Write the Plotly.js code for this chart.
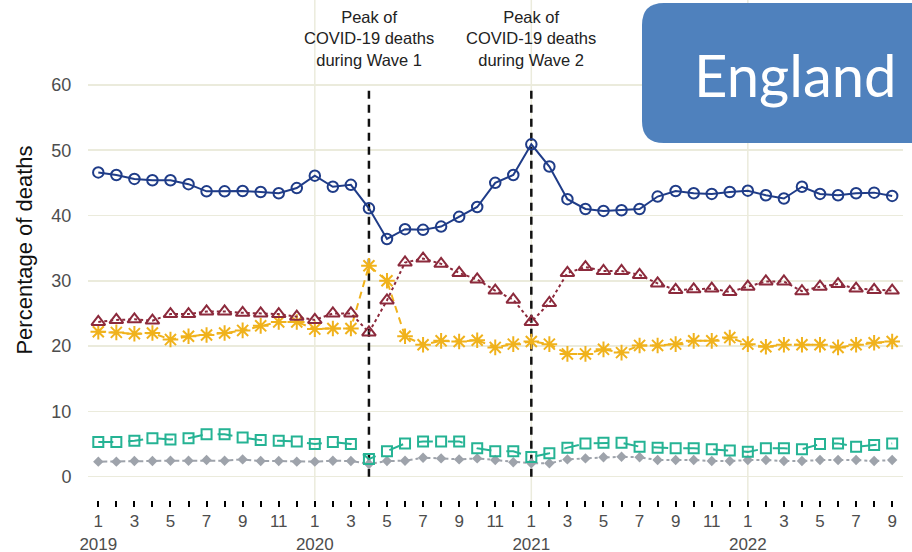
<!DOCTYPE html>
<html><head><meta charset="utf-8">
<script src="https://cdn.plot.ly/plotly-3.0.1.min.js"></script>
<style>html,body{margin:0;padding:0;background:#fff}#chart{width:912px;height:552px}</style>
</head><body><div id="chart"></div>
<script>
const periods = ['2019-01','2019-02','2019-03','2019-04','2019-05','2019-06','2019-07','2019-08','2019-09','2019-10','2019-11','2019-12',
  '2020-01','2020-02','2020-03','2020-04','2020-05','2020-06','2020-07','2020-08','2020-09','2020-10','2020-11','2020-12',
  '2021-01','2021-02','2021-03','2021-04','2021-05','2021-06','2021-07','2021-08','2021-09','2021-10','2021-11','2021-12',
  '2022-01','2022-02','2022-03','2022-04','2022-05','2022-06','2022-07','2022-08','2022-09'];
const monthTicks = ['1<br>2019','','3','','5','','7','','9','','11','',
  '1<br>2020','','3','','5','','7','','9','','11','',
  '1<br>2021','','3','','5','','7','','9','','11','',
  '1<br>2022','','3','','5','','7','','9'];
const yearStarts = ['2019-01','2020-01','2021-01','2022-01'];
const yTicks = [0,10,20,30,40,50,60];

const hospital = [46.6,46.2,45.6,45.4,45.4,44.8,43.7,43.7,43.75,43.6,43.4,44.2,46.1,44.4,44.7,
  41.1,36.4,37.9,37.8,38.3,39.8,41.3,45.0,46.2,50.9,47.5,42.5,41.0,40.7,40.8,41.0,
  42.9,43.75,43.4,43.3,43.6,43.8,43.1,42.6,44.4,43.3,43.1,43.4,43.5,43.0];
const home = [23.7,24.0,24.1,23.9,24.9,24.9,25.3,25.3,25.1,25.0,24.9,24.5,24.0,25.0,25.0,
  22.1,27.0,32.8,33.4,32.6,31.2,30.2,28.5,27.1,23.7,26.6,31.2,32.1,31.5,31.5,30.9,
  29.6,28.6,28.7,28.8,28.3,29.1,29.9,29.9,28.4,29.1,29.5,28.8,28.6,28.5];
const careHome = [22.2,22.1,21.9,22.0,21.0,21.5,21.7,22.0,22.4,23.1,23.7,23.7,22.6,22.7,22.7,
  32.3,30.0,21.5,20.2,20.8,20.7,20.9,19.8,20.3,20.7,20.3,18.8,18.8,19.5,19.0,20.1,
  20.1,20.3,20.8,20.8,21.3,20.3,19.9,20.2,20.2,20.2,19.8,20.2,20.5,20.7];
const hospice = [5.3,5.3,5.5,5.9,5.7,5.9,6.5,6.5,6.0,5.6,5.5,5.4,5.0,5.3,5.0,
  2.7,3.9,5.1,5.4,5.4,5.4,4.35,3.9,3.9,3.0,3.6,4.45,5.1,5.2,5.2,4.6,
  4.45,4.35,4.35,4.2,4.0,3.8,4.35,4.35,4.2,5.0,5.1,4.6,4.85,5.1];
const other = [2.3,2.3,2.4,2.4,2.45,2.45,2.55,2.45,2.65,2.4,2.4,2.3,2.3,2.45,2.4,
  1.95,2.4,2.45,2.9,2.8,2.65,2.8,2.55,2.2,2.05,2.05,2.65,2.8,2.97,3.05,2.97,
  2.55,2.55,2.55,2.4,2.4,2.55,2.55,2.4,2.4,2.55,2.55,2.55,2.4,2.55];

const wavePeaks = ['2020-04','2021-01'];
const waveLabels = ['Peak of<br>COVID-19 deaths<br>during Wave 1','Peak of<br>COVID-19 deaths<br>during Wave 2'];
const regionLabel = 'England';

function series(name, y, color, symbol, size, dash, lw) {
  return {
    type: 'scatter', mode: 'lines+markers', name: name, x: periods, y: y,
    line: {color: color, width: 2, dash: dash},
    marker: {symbol: symbol, size: size, color: color, line: {color: color, width: lw}},
    cliponaxis: false, showlegend: false
  };
}

const traces = [
  series('Other', other, '#9ea3ab', 'diamond', 8, 'dashdot', 0),
  series('Hospice', hospice, '#25b394', 'square-open', 10, 'longdash', 2),
  series('Care home', careHome, '#f0b21c', 'asterisk-open', 13, '7px,5px', 2),
  series('Home', home, '#8c2a3c', 'triangle-up-open', 12, 'dot', 2),
  series('Hospital', hospital, '#1f3c88', 'circle-open', 10.5, 'solid', 2)
];

const shapes = [];
yearStarts.slice(1).forEach(function(p){
  shapes.push({type:'line', xref:'x', yref:'paper', x0:p, x1:p, y0:0, y1:1,
    line:{color:'#ebebdc', width:1.5}, layer:'below'});
});
wavePeaks.forEach(function(p){
  shapes.push({type:'line', xref:'x', yref:'y', x0:p, x1:p, y0:0, y1:60,
    line:{color:'#111', width:2.5, dash:'8px,6px'}, layer:'between'});
});
(function(){
  const L = 88, W = 815, H = 500;
  const x0 = (642-L)/W, x1 = (915-L)/W, yt = (H-3)/H, yb = (H-143)/H;
  const rx = 22/W, ry = 22/H;
  const path = 'M'+(x0+rx)+','+yt+' L'+x1+','+yt+' L'+x1+','+yb+' L'+(x0+rx)+','+yb+
    ' Q'+x0+','+yb+' '+x0+','+(yb+ry)+' L'+x0+','+(yt-ry)+' Q'+x0+','+yt+' '+(x0+rx)+','+yt+' Z';
  shapes.push({type:'path', xref:'paper', yref:'paper', path:path,
    fillcolor:'#4f81bd', line:{width:0}, layer:'above'});
})();

const annotations = [];
wavePeaks.forEach(function(p,i){
  annotations.push({xref:'x', yref:'paper', x:p, y:1, yanchor:'top', xanchor:'center',
    yshift:-6, showarrow:false, text:waveLabels[i], align:'center',
    font:{family:'Liberation Sans, Arial, sans-serif', size:16.5, color:'#222'}});
});
annotations.push({xref:'paper', yref:'paper', x:(795-88)/815, y:(500-74)/500,
  xanchor:'center', yanchor:'middle', showarrow:false, text:regionLabel,
  font:{family:'Lato, Open Sans, sans-serif', size:58, color:'#ffffff'}});

const layout = {
  width: 912, height: 552,
  margin: {l:88, r:9, t:0, b:52},
  paper_bgcolor:'#ffffff', plot_bgcolor:'#ffffff',
  font:{family:'Liberation Sans, Arial, sans-serif', color:'#4d4d4d'},
  xaxis: {type:'category', categoryorder:'array', categoryarray:periods,
    range:[-0.571, 44.6], tickmode:'array', tickvals:periods, ticktext:monthTicks,
    ticks:'outside', ticklen:6, tickwidth:2, tickcolor:'#000',
    showgrid:false, zeroline:false, showline:false, automargin:false,
    tickfont:{size:17, color:'#4d4d4d'}},
  yaxis: {range:[-3.57, 73.0], tickmode:'array', tickvals:yTicks,
    ticks:'outside', ticklen:12, tickcolor:'rgba(0,0,0,0)',
    showgrid:true, gridcolor:'#ebebdc', gridwidth:1.5, zeroline:false, showline:false,
    tickfont:{size:18, color:'#4d4d4d'},
    title:{text:'Percentage of deaths', font:{size:22, color:'#111'}, standoff:12}},
  shapes: shapes,
  annotations: annotations,
  showlegend:false
};

Plotly.newPlot('chart', traces, layout, {staticPlot:true, displayModeBar:false});
</script></body></html>
